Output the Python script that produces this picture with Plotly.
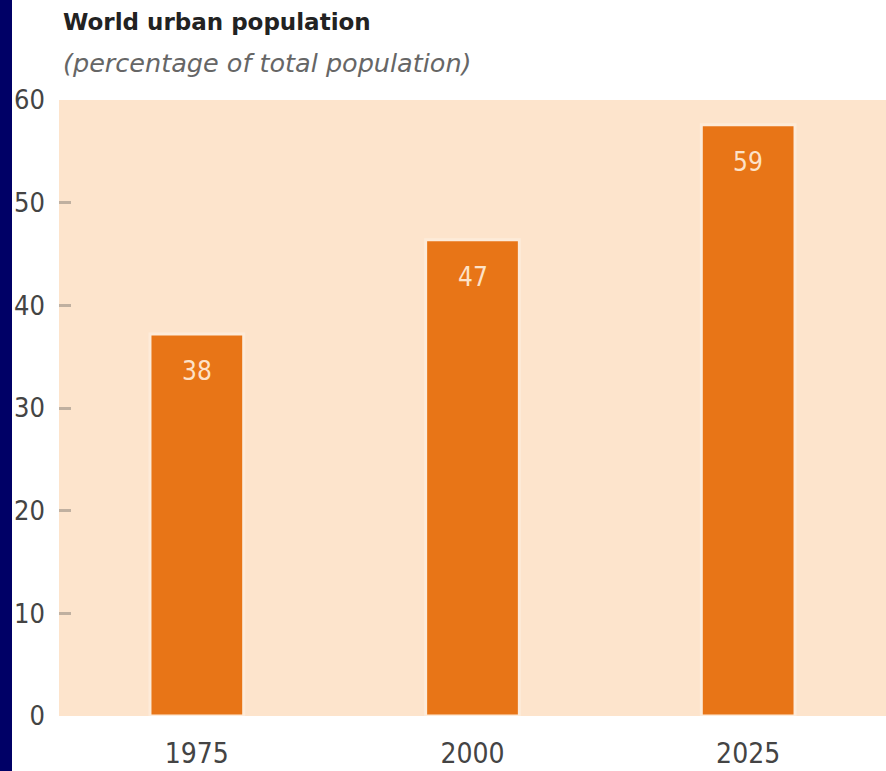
import plotly.graph_objects as go

# Data
years = ["1975", "2000", "2025"]
urban_share = [37.2, 46.4, 57.6]
share_labels = ["38", "47", "59"]
y_ticks = [0, 10, 20, 30, 40, 50, 60]

NARROW = "DejaVu Sans Condensed, Liberation Sans Narrow, sans-serif"
WIDE = "DejaVu Sans, sans-serif"

fig = go.Figure()

fig.add_trace(go.Bar(
    x=years,
    y=urban_share,
    width=0.34,
    marker=dict(color="#e87517", line=dict(color="#fdebd9", width=3)),
    hoverinfo="skip",
))

# value labels sit a little below the top of each bar (x = category index)
for i, (val, lab) in enumerate(zip(urban_share, share_labels)):
    fig.add_annotation(x=i, y=val, text=lab, showarrow=False,
                       yanchor="middle", yshift=-37,
                       font=dict(family=NARROW, size=26, color="#fde2c8"))

# navy strip down the left edge
fig.add_shape(type="rect", xref="paper", yref="paper",
              x0=-59 / 827, x1=-47 / 827, y0=-55 / 616, y1=1 + 100 / 616,
              fillcolor="#000066", line_width=0, layer="above")

fig.add_annotation(text="<b>World urban population</b>", xref="paper", yref="paper",
                   x=2 / 827, y=1 + 78 / 616, xanchor="left", yanchor="middle",
                   showarrow=False, font=dict(family=WIDE, size=23, color="#222222"))
fig.add_annotation(text="<i>(percentage of total population)</i>", xref="paper", yref="paper",
                   x=2 / 827, y=1 + 37 / 616, xanchor="left", yanchor="middle",
                   showarrow=False, font=dict(family=WIDE, size=25.5, color="#666666"))

fig.update_layout(
    width=886, height=771,
    paper_bgcolor="white",
    plot_bgcolor="#fde4cc",
    margin=dict(l=59, r=0, t=100, b=55),
    showlegend=False,
    xaxis=dict(
        type="category", range=[-0.5, 2.5],
        showgrid=False, showline=False, zeroline=False,
        ticks="", tickfont=dict(family=NARROW, size=28, color="#444444"),
        ticklabelstandoff=18,
    ),
    yaxis=dict(
        range=[0, 60], tickvals=y_ticks,
        showgrid=False, zeroline=False, showline=False,
        ticks="inside", ticklen=12, tickwidth=3, tickcolor="#c0b0a0",
        tickfont=dict(family=NARROW, size=27, color="#444444"),
        ticklabelstandoff=13,
    ),
)

fig.write_html("out.html", config={"displayModeBar": False},
               post_script="document.body.style.margin='0';")
